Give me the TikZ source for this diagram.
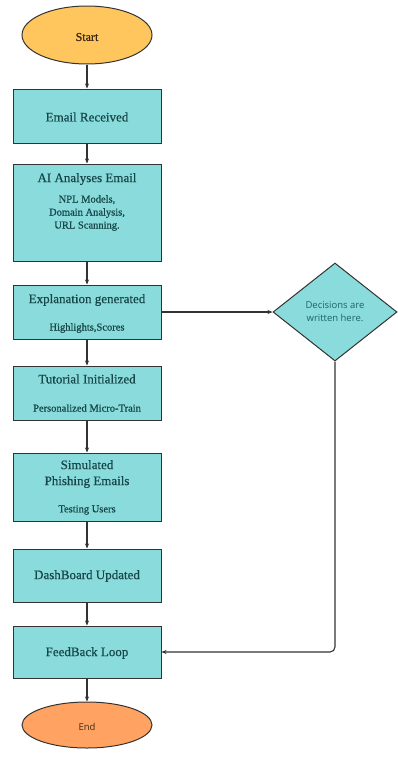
\documentclass[tikz,border=0pt]{standalone}
\usepackage{fontspec}
\setmainfont{Liberation Serif}[FakeBold=0.6]
\newfontfamily\diafont{Open Sans}
\usetikzlibrary{shapes.geometric,arrows.meta}
\definecolor{boxfill}{HTML}{8ADCDC}
\definecolor{txt}{HTML}{174649}
\definecolor{diatxt}{HTML}{1C6367}
\definecolor{startfill}{HTML}{FFC65E}
\definecolor{endfill}{HTML}{FFA262}
\definecolor{edgec}{HTML}{333333}
\begin{document}
\begin{tikzpicture}[x=1pt,y=-1pt,
  stepbox/.style={draw=edgec,line width=1pt,fill=boxfill,minimum width=148pt,inner sep=0pt},
  ttl/.style={text=txt,font=\fontsize{13}{14}\selectfont,inner sep=0pt},
  sub/.style={text=txt,font=\fontsize{10.5}{13}\selectfont,inner sep=0pt,align=center},
  term/.style={ellipse,draw=edgec,line width=1pt,minimum width=130pt,inner sep=0pt},
  conn/.style={draw=edgec,line width=1.1pt,-{Stealth[length=5pt,width=4pt]}}]
\useasboundingbox (0,0) rectangle (397,758);
% terminals
\node[term,fill=startfill,minimum height=58pt] (start) at (87,35) {};
\node[text=black!70!brown,font=\fontsize{12}{12}\selectfont,inner sep=0pt] (starttxt) at (87,37) {Start};
\node[term,fill=endfill,minimum height=46pt] (end) at (87,725) {};
\node[text=black!65!brown,font=\diafont\fontsize{9.5}{11}\selectfont,inner sep=0pt] (endtxt) at (87,727) {End};
% boxes
\node[stepbox,minimum height=54pt] (email) at (87,116) {};
\node[ttl] (emailt) at (87,117) {Email Received};
\node[stepbox,minimum height=97pt] (ai) at (87,212.5) {};
\node[ttl] (ait) at (87,179) {AI Analyses Email};
\node[sub] (ais) at (87,213) {NPL Models,\\Domain Analysis,\\URL Scanning.};
\node[stepbox,minimum height=54pt] (expl) at (87,312) {};
\node[ttl] (explt) at (87,300) {Explanation generated};
\node[sub] (expls) at (87,328) {Highlights,Scores};
\node[stepbox,minimum height=54pt] (tut) at (87,393) {};
\node[ttl] (tutt) at (87,379) {Tutorial Initialized};
\node[sub] (tuts) at (87,408) {Personalized Micro-Train};
\node[stepbox,minimum height=68pt] (sim) at (87,487) {};
\node[ttl,align=center,font=\fontsize{13}{16}\selectfont] (simt) at (87,474) {Simulated\\Phishing Emails};
\node[sub] (sims) at (87,510) {Testing Users};
\node[stepbox,minimum height=53pt] (dash) at (87,575.5) {};
\node[ttl] (dasht) at (87,576) {DashBoard Updated};
\node[stepbox,minimum height=52pt] (fb) at (87,652) {};
\node[ttl] (fbt) at (87,653) {FeedBack Loop};
% decision
\node[diamond,draw=edgec,line width=1pt,fill=boxfill,minimum width=124pt,minimum height=98pt,inner sep=0pt] (dec) at (335,312) {};
\node[text=diatxt,font=\diafont\fontsize{9.5}{13}\selectfont,align=center,inner sep=0pt] (dect) at (335,312) {Decisions are\\written here.};
% connectors
\draw[conn] (start) -- (email);
\draw[conn] (email) -- (ai);
\draw[conn] (ai) -- (expl);
\draw[conn] (expl) -- (tut);
\draw[conn] (tut) -- (sim);
\draw[conn] (sim) -- (dash);
\draw[conn] (dash) -- (fb);
\draw[conn] (fb) -- (end);
\draw[conn] (expl.east) -- (dec.west);
\draw[conn,rounded corners=5pt] (dec.south) |- (fb.east);
\end{tikzpicture}
\end{document}
